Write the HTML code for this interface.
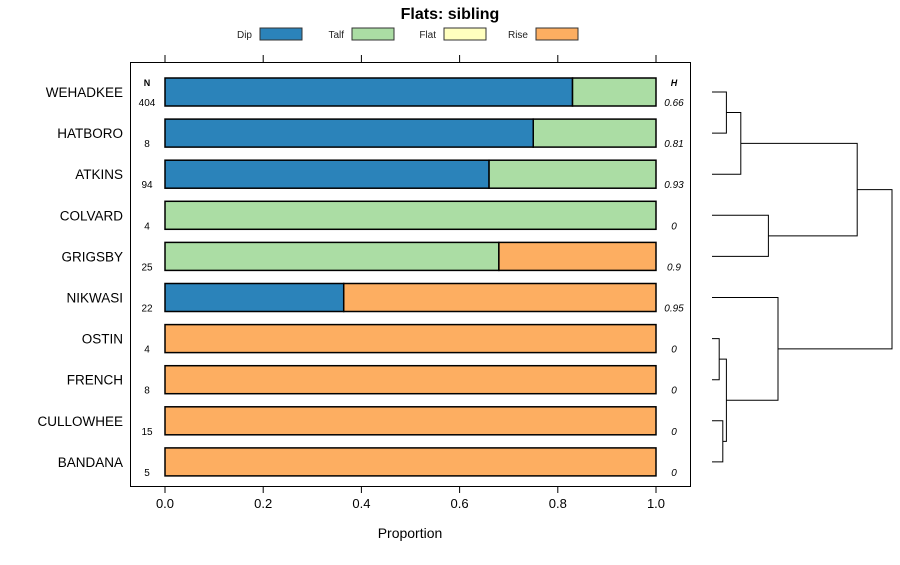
<!DOCTYPE html>
<html><head><meta charset="utf-8"><style>
body{margin:0;background:#fff;width:900px;height:560px;overflow:hidden}
svg{font-family:"Liberation Sans",sans-serif}
</style></head><body>
<svg id="c" width="900" height="560"></svg>
<script>
const categories=["WEHADKEE","HATBORO","ATKINS","COLVARD","GRIGSBY","NIKWASI","OSTIN","FRENCH","CULLOWHEE","BANDANA"];
const nValues=[404,8,94,4,25,22,4,8,15,5];
const hValues=["0.66","0.81","0.93","0","0.9","0.95","0","0","0","0"];
const dipVals=[0.83,0.75,0.66,0,0,0.364,0,0,0,0];
const talfVals=[0.17,0.25,0.34,1,0.68,0,0,0,0,0];
const flatVals=[0,0,0,0,0,0,0,0,0,0];
const riseVals=[0,0,0,0,0.32,0.636,1,1,1,1];
const seriesNames=["Dip","Talf","Flat","Rise"];
const seriesColors=["#2b83ba","#abdda4","#ffffbf","#fdae61"];
const xTicks=[0,0.2,0.4,0.6,0.8,1.0];
const xTickLabels=["0.0","0.2","0.4","0.6","0.8","1.0"];
// dendrogram merges: [leftNode,rightNode,height]; leaves are 0..9, merges 10+
const merges=[[0,1,0.12],[10,2,0.24],[3,4,0.47],[11,12,1.21],[6,7,0.06],[8,9,0.09],[14,15,0.12],[5,16,0.55],[13,17,1.5]];

const svg=document.getElementById('c');
const NS="http://www.w3.org/2000/svg";
function el(t,a,p){const e=document.createElementNS(NS,t);for(const k in a)e.setAttribute(k,a[k]);(p||svg).appendChild(e);return e;}
const x=v=>165+v*491;
const y=i=>92+i*41.1;
const BH=28;

let t=el('text',{x:450,y:19,'text-anchor':'middle','font-size':16,'font-weight':'bold'});t.textContent="Flats: sibling";


const legX=[236,328,420,512];
seriesNames.forEach((n,k)=>{
  const g=el('g',{});
  
  
  const tt=el('text',{x:legX[k]+16,y:38,'text-anchor':'end','font-size':10,fill:'#222'},g);tt.textContent=n;
  el('rect',{x:legX[k]+24,y:28,width:42,height:12,fill:seriesColors[k],stroke:'#333','stroke-width':1},g);
});
const panel=el('rect',{x:130.5,y:62.5,width:560,height:424,fill:'none',stroke:'#000','stroke-width':1});


xTicks.forEach((v,i)=>{
  el('line',{x1:x(v),x2:x(v),y1:486,y2:493,stroke:'#000'});
  el('line',{x1:x(v),x2:x(v),y1:55,y2:62,stroke:'#000'});
  const l=el('text',{x:x(v),y:508,'text-anchor':'middle','font-size':13});l.textContent=xTickLabels[i];
  
  
});
t=el('text',{x:410,y:538,'text-anchor':'middle','font-size':14});t.textContent="Proportion";


t=el('text',{x:147,y:86,'text-anchor':'middle','font-size':9,'font-weight':'bold'});t.textContent="N";
t=el('text',{x:674,y:86,'text-anchor':'middle','font-size':9,'font-weight':'bold','font-style':'italic'});t.textContent="H";
const series=[dipVals,talfVals,flatVals,riseVals];
categories.forEach((c,i)=>{
  const cy=y(i);
  const lb=el('text',{x:123,y:cy+5,'text-anchor':'end','font-size':13.5});lb.textContent=c;
  
  
  const nt=el('text',{x:147,y:cy+14,'text-anchor':'middle','font-size':10});nt.textContent=nValues[i];
  const ht=el('text',{x:674,y:cy+14,'text-anchor':'middle','font-size':10,'font-style':'italic'});ht.textContent=hValues[i];
  let acc=0;
  series.forEach((s,k)=>{
    const v=s[i];
    if(v>0){
      const r=el('rect',{x:x(acc),y:cy-BH/2,width:x(acc+v)-x(acc),height:BH,fill:seriesColors[k],stroke:'#000','stroke-width':1.5});
      
      
    }
    acc+=v;
  });
});
// dendrogram
const hx=h=>712+h*120;
const nodes=categories.map((c,i)=>({y:y(i),h:0}));
merges.forEach(m=>{
  const a=nodes[m[0]],b=nodes[m[1]],X=hx(m[2]);
  const p=el('path',{d:`M${hx(a.h)},${a.y}H${X}V${b.y}H${hx(b.h)}`,fill:'none',stroke:'#000','stroke-width':1});
  
  
  nodes.push({y:(a.y+b.y)/2,h:m[2]});
});
</script></body></html>
